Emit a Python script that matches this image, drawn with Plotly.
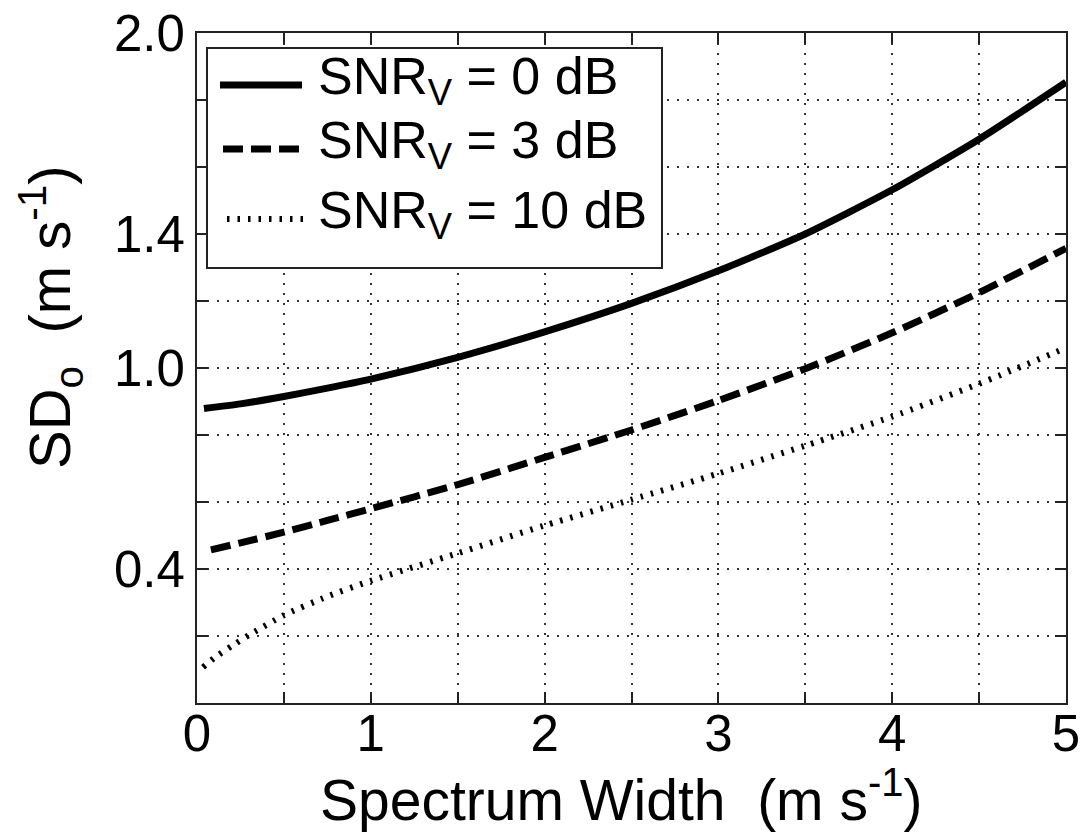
import plotly.graph_objects as go

# ---- data: SD_o versus spectrum width for three SNR_V levels ----
width_0db = [0.04, 0.25, 0.5, 0.75, 1.0, 1.5, 2.0, 2.5, 3.0, 3.5, 4.0, 4.5, 5.0]
sd_0db = [0.879, 0.893, 0.915, 0.940, 0.967, 1.032, 1.108, 1.193, 1.290, 1.400, 1.532, 1.683, 1.853]

width_3db = [0.08, 0.25, 0.5, 0.75, 1.0, 1.5, 2.0, 2.5, 3.0, 3.5, 4.0, 4.5, 5.0]
sd_3db = [0.457, 0.478, 0.510, 0.545, 0.580, 0.652, 0.733, 0.815, 0.903, 0.998, 1.105, 1.225, 1.357]

width_10db = [0.035, 0.1, 0.2, 0.3, 0.5, 0.75, 1.0, 1.5, 2.0, 2.5, 3.0, 3.5, 4.0, 4.5, 5.0]
sd_10db = [0.107, 0.135, 0.170, 0.203, 0.262, 0.318, 0.365, 0.447, 0.530, 0.607, 0.685, 0.768, 0.855, 0.953, 1.060]

series_labels = ["SNR<sub>V</sub> = 0 dB", "SNR<sub>V</sub> = 3 dB", "SNR<sub>V</sub> = 10 dB"]

x_tickvals = [0, 0.5, 1, 1.5, 2, 2.5, 3, 3.5, 4, 4.5, 5]
x_ticktext = ["0", "", "1", "", "2", "", "3", "", "4", "", "5"]
y_tickvals = [0.0, 0.2, 0.4, 0.6, 0.8, 1.0, 1.2, 1.4, 1.6, 1.8, 2.0]
y_ticktext = ["", "", "0.4", "", "", "1.0", "", "1.4", "", "", "2.0"]

# ---- figure geometry ----
W, H = 1080, 832
ML, MR, MT, MB = 197, 14, 33, 129
PW, PH = W - ML - MR, H - MT - MB
FONT = "Liberation Sans, Arial, sans-serif"


def px_x(p):
    """Pixel column -> paper x."""
    return (p - ML) / PW


def px_y(p):
    """Pixel row -> paper y."""
    return (H - MB - p) / PH


line_styles = [
    dict(color="black", width=7, dash="solid"),
    dict(color="black", width=7, dash="20px,8px"),
    dict(color="black", width=6, dash="2.5px,8px"),
]

fig = go.Figure()
for xs, ys, style in zip([width_0db, width_3db, width_10db],
                         [sd_0db, sd_3db, sd_10db], line_styles):
    fig.add_trace(go.Scatter(
        x=xs, y=ys, mode="lines",
        line=dict(shape="spline", smoothing=0.6, **style),
        showlegend=False, hoverinfo="skip",
    ))

axis_common = dict(
    showline=True, linecolor="#222", linewidth=2, mirror="ticks",
    ticks="inside", ticklen=11, tickwidth=2, tickcolor="#222",
    showgrid=True, gridcolor="#333", gridwidth=1.6, griddash="2px,8px",
    zeroline=False, tickfont=dict(family=FONT, size=51, color="black"),
    ticklabeloverflow="allow", automargin=False,
)

fig.update_xaxes(range=[0, 5], tickmode="array", tickvals=x_tickvals,
                 ticktext=x_ticktext, ticklabelstandoff=-15, **axis_common)
fig.update_yaxes(range=[0, 2.0], tickmode="array", tickvals=y_tickvals,
                 ticktext=y_ticktext, **axis_common)

# ---- legend box drawn in the upper-left corner ----
shapes = [dict(type="rect", xref="paper", yref="paper",
               x0=px_x(207), x1=px_x(662), y0=px_y(268), y1=px_y(48),
               line=dict(color="#222", width=2), fillcolor="white",
               layer="above")]
row_y = [85, 149, 219]
sample_x = [(220, 302), (223, 300), (227, 309)]
annotations = []
for label, style, ry, (sx0, sx1) in zip(series_labels, line_styles, row_y, sample_x):
    shapes.append(dict(type="line", xref="paper", yref="paper",
                       x0=px_x(sx0), x1=px_x(sx1), y0=px_y(ry), y1=px_y(ry),
                       line=style, layer="above"))
    annotations.append(dict(text=label, xref="paper", yref="paper",
                            x=px_x(316), y=px_y(ry - 5), xanchor="left", yanchor="middle",
                            showarrow=False,
                            font=dict(family=FONT, size=52, color="black")))

# ---- axis titles ----
annotations.append(dict(text="Spectrum Width\u00a0 (m s<sup>-1</sup>)",
                        xref="paper", yref="paper", x=px_x(621), y=px_y(796),
                        xanchor="center", yanchor="middle", showarrow=False,
                        font=dict(family=FONT, size=57, color="black")))
annotations.append(dict(text="SD<sub>o</sub>\u00a0 (m s<sup>-1</sup>)",
                        xref="paper", yref="paper", x=px_x(50), y=px_y(317),
                        xanchor="center", yanchor="middle", textangle=-90,
                        showarrow=False,
                        font=dict(family=FONT, size=58, color="black")))

fig.update_layout(
    width=W, height=H,
    margin=dict(l=ML, r=MR, t=MT, b=MB),
    paper_bgcolor="white", plot_bgcolor="white",
    shapes=shapes, annotations=annotations,
    font=dict(family=FONT, color="black"),
)

fig.write_html("out.html")
